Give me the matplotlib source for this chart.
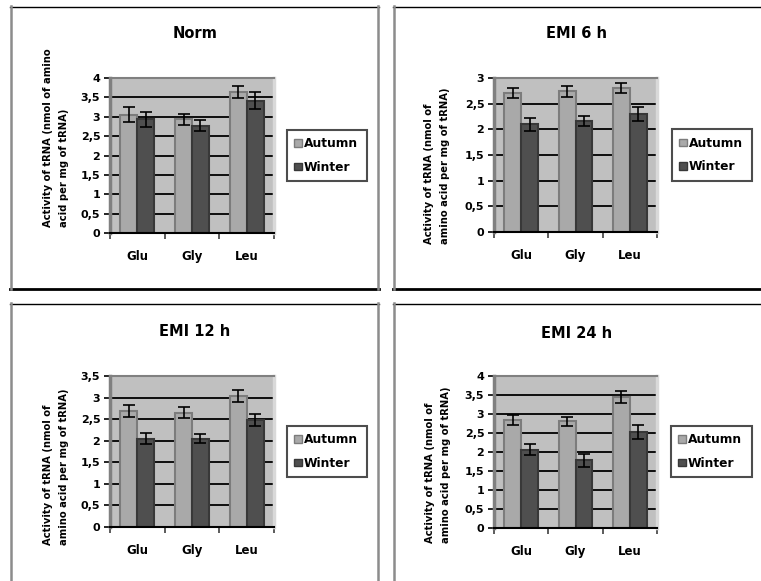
import matplotlib
matplotlib.use("Agg")
import matplotlib.pyplot as plt
from matplotlib.lines import Line2D
import numpy as np

categories = ["Glu", "Gly", "Leu"]
series_names = ["Autumn", "Winter"]

norm_autumn = [3.05, 2.93, 3.64]
norm_autumn_err = [0.19, 0.15, 0.15]
norm_winter = [2.93, 2.77, 3.41]
norm_winter_err = [0.20, 0.14, 0.22]

emi6_autumn = [2.71, 2.74, 2.81]
emi6_autumn_err = [0.10, 0.11, 0.10]
emi6_winter = [2.10, 2.16, 2.30]
emi6_winter_err = [0.13, 0.10, 0.13]

emi12_autumn = [2.68, 2.65, 3.03]
emi12_autumn_err = [0.14, 0.13, 0.14]
emi12_winter = [2.05, 2.05, 2.48]
emi12_winter_err = [0.13, 0.11, 0.13]

emi24_autumn = [2.84, 2.81, 3.45]
emi24_autumn_err = [0.14, 0.12, 0.15]
emi24_winter = [2.06, 1.78, 2.52]
emi24_winter_err = [0.15, 0.17, 0.19]

titles = ["Norm", "EMI 6 h", "EMI 12 h", "EMI 24 h"]
ymax_list = [4.0, 3.0, 3.5, 4.0]
ylabels = ["Activity of tRNA (nmol of amino\nacid per mg of tRNA)",
           "Activity of tRNA (nmol of\namino acid per mg of tRNA)",
           "Activity of tRNA (nmol of\namino acid per mg of tRNA)",
           "Activity of tRNA (nmol of\namino acid per mg of tRNA)"]

panels = [
    (norm_autumn, norm_autumn_err, norm_winter, norm_winter_err),
    (emi6_autumn, emi6_autumn_err, emi6_winter, emi6_winter_err),
    (emi12_autumn, emi12_autumn_err, emi12_winter, emi12_winter_err),
    (emi24_autumn, emi24_autumn_err, emi24_winter, emi24_winter_err),
]

W, H = 761, 581
fig = plt.figure(figsize=(W / 100, H / 100), dpi=100)
fig.patch.set_facecolor("white")

def fx(x):
    return x / W

def fy(y):
    return 1 - y / H

# layout in pixels: (plot left, right, top, bottom)
axes_px = [(110, 274, 78, 233), (494, 657, 78, 232), (110, 274, 376, 527), (494, 657, 376, 528)]
title_px = [(195, 33), (577, 34), (195, 332), (577, 333)]
ylabel_px = [(56, 227), (437, 244), (56, 545), (438, 543)]
legend_px = [(287, 367, 131, 180), (672, 752, 130, 180), (287, 367, 428, 475), (671, 752, 428, 475)]

autumn_face = "#A9A9A9"
autumn_edge = "#7C7C7C"
winter_face = "#4F4F4F"
winter_edge = "#383838"

width = 0.31
x = np.arange(len(categories))

def fmt(v):
    s = ("%g" % v).replace(".", ",")
    return s

for i, (a, ae, w, we) in enumerate(panels):
    l, r, t, b = axes_px[i]
    ax = fig.add_axes([fx(l), fy(b), fx(r - l), (b - t) / H])
    ax.set_facecolor("#C0C0C0")
    ymax = ymax_list[i]
    ticks = np.arange(0, ymax + 0.01, 0.5)
    ax.set_ylim(0, ymax)
    ax.set_xlim(-0.5, 2.5)
    for tv in ticks[1:]:
        ax.axhline(tv, color="black", lw=1.3, zorder=1)
    ax.bar(x - width / 2, a, width, color=autumn_face, edgecolor=autumn_edge, lw=1.5, zorder=2)
    ax.bar(x + width / 2, w, width, color=winter_face, edgecolor=winter_edge, lw=1.5, zorder=2)
    ax.errorbar(x - width / 2, a, yerr=ae, fmt="none", ecolor="black", elinewidth=1.2,
                capsize=4.5, capthick=1.2, zorder=3)
    ax.errorbar(x + width / 2, w, yerr=we, fmt="none", ecolor="black", elinewidth=1.2,
                capsize=4.5, capthick=1.2, zorder=3)
    ax.set_yticks(ticks)
    ax.set_yticklabels([fmt(v) for v in ticks], fontsize=8, fontweight="bold")
    ax.tick_params(axis="y", direction="out", length=4, width=1.2, color="black", pad=3)
    ax.set_xticks([-0.5, 0.5, 1.5, 2.5])
    ax.set_xticklabels([])
    ax.tick_params(axis="x", which="major", direction="out", length=4, width=1.2, color="#404040")
    ax.set_xticks(x, minor=True)
    ax.set_xticklabels(categories, minor=True, fontsize=8.5, fontweight="bold")
    ax.tick_params(axis="x", which="minor", length=0, pad=12)
    ax.spines["left"].set_color("#808080")
    ax.spines["left"].set_linewidth(2.5)
    ax.spines["top"].set_color("#808080")
    ax.spines["top"].set_linewidth(1.5)
    ax.spines["right"].set_color("#D9D9D9")
    ax.spines["right"].set_linewidth(2.5)
    ax.spines["bottom"].set_color("black")
    ax.spines["bottom"].set_linewidth(1.5)

    tx, ty = title_px[i]
    fig.text(fx(tx), fy(ty), titles[i], ha="center", va="center", fontsize=10.5, fontweight="bold")

    lx, ly = ylabel_px[i]
    fig.text(fx(lx), fy(ly), ylabels[i], rotation=90, ha="center", va="bottom",
             multialignment="left", fontsize=7.2, fontweight="bold", linespacing=1.7)

    gl, gr, gt, gb = legend_px[i]
    handles = [plt.Rectangle((0, 0), 1, 1, facecolor=autumn_face, edgecolor=autumn_edge, lw=1),
               plt.Rectangle((0, 0), 1, 1, facecolor=winter_face, edgecolor=winter_edge, lw=1)]
    leg = fig.legend(handles, series_names, loc="center left",
                     bbox_to_anchor=(fx(gl), fy(gb), fx(gr - gl), (gb - gt) / H),
                     mode="expand", borderaxespad=0,
                     prop={"weight": "bold", "size": 8.8},
                     handlelength=0.6, handleheight=0.6, handletextpad=0.2,
                     labelspacing=0.85, borderpad=0.6, fancybox=False, frameon=True)
    leg.get_frame().set_edgecolor("#202020")
    leg.get_frame().set_linewidth(1.5)

# panel frames
def vline(xp, y0, y1, color, lw):
    fig.add_artist(Line2D([fx(xp), fx(xp)], [fy(y0), fy(y1)], color=color, lw=lw))

def hline(yp, x0, x1, color, lw):
    fig.add_artist(Line2D([fx(x0), fx(x1)], [fy(yp), fy(yp)], color=color, lw=lw))

gray = "#8C8C8C"
# top-left
hline(6.5, 10, 379, "black", 1.0)
hline(288.5, 10, 379, "black", 2.0)
vline(11, 6, 289, gray, 1.8)
vline(378, 6, 289, gray, 1.8)
# top-right
hline(6.5, 393, 761, "black", 1.0)
hline(288.5, 393, 761, "black", 2.0)
vline(394, 6, 289, gray, 1.8)
# bottom-left
hline(303.5, 10, 379, "black", 1.0)
vline(11, 303, 581, gray, 1.8)
vline(378, 303, 581, gray, 1.8)
# bottom-right
hline(303.5, 393, 761, "black", 1.0)
vline(394, 303, 581, gray, 1.8)

fig.savefig("out.png", dpi=100)
